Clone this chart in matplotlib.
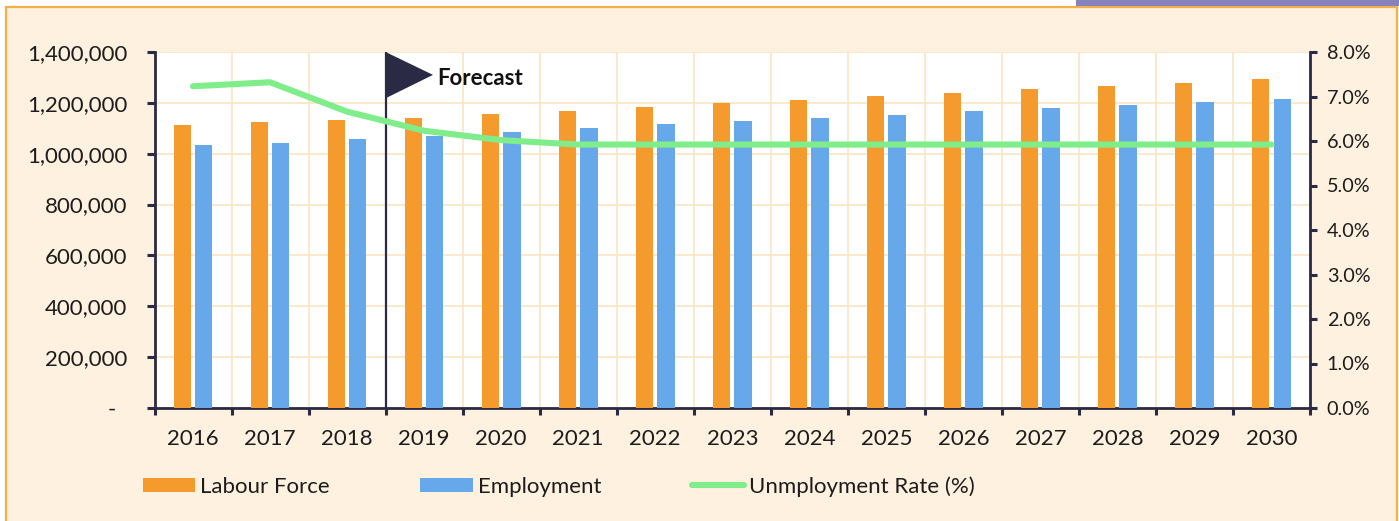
import matplotlib
matplotlib.use("Agg")
import matplotlib.pyplot as plt
from matplotlib.patches import Rectangle, Polygon
from matplotlib.ticker import FuncFormatter, FixedLocator
import numpy as np

years = [2016, 2017, 2018, 2019, 2020, 2021, 2022, 2023, 2024, 2025, 2026, 2027, 2028, 2029, 2030]
labour_force = [1112000, 1123000, 1131000, 1141000, 1155000, 1168000, 1184000, 1199000, 1211000,
                1227000, 1239000, 1254000, 1267000, 1280000, 1295000]
employment = [1033000, 1041000, 1057000, 1071000, 1085000, 1100000, 1115000, 1128000, 1141000,
              1154000, 1168000, 1180000, 1192000, 1205000, 1217000]
unemployment = [7.23, 7.32, 6.66, 6.23, 6.02, 5.92, 5.92, 5.92, 5.92, 5.92, 5.92, 5.92, 5.92, 5.92, 5.92]
series_names = ["Labour Force", "Employment", "Unmployment Rate (%)"]

ORANGE, BLUE, GREEN = "#F59A2C", "#66A8E9", "#7FEE8A"
DARK, BG, GRID = "#2A2A45", "#FEF1DF", "#FBE3BF"
TEXT = "#1c1c1c"
W, H = 1399, 521

plt.rcParams["font.family"] = ["Lato", "DejaVu Sans"]
plt.rcParams["font.size"] = 16

fig = plt.figure(figsize=(W / 100, H / 100), dpi=100, facecolor="white")

# panel and decoration
fig.add_artist(Rectangle((6.5 / W, -0.01), (1397 - 6.5) / W, (H - 7) / H + 0.01, transform=fig.transFigure,
                         facecolor=BG, edgecolor="#F5AE48", linewidth=1.6, zorder=-2))
fig.add_artist(Rectangle((1076 / W, 1 - 6 / H), (W - 1076) / W, 6 / H, transform=fig.transFigure,
                         facecolor="#8882BC", edgecolor="none", zorder=-1))

ax = fig.add_axes([154.5 / W, 1 - 408 / H, (1310 - 154.5) / W, (408 - 52) / H], facecolor="white")
x = np.arange(len(years))
b1 = ax.bar(x - 0.139, labour_force, width=0.225, color=ORANGE, label=series_names[0], zorder=3)
b2 = ax.bar(x + 0.139, employment, width=0.225, color=BLUE, label=series_names[1], zorder=3)

ax.set_xlim(-0.5, len(years) - 0.5)
ax.set_ylim(0, 1400000)
ax.set_yticks(np.arange(0, 1400001, 200000))
ax.yaxis.set_major_formatter(FuncFormatter(lambda v, _: "-  " if v == 0 else f"{int(v):,}"))
ax.xaxis.set_major_locator(FixedLocator(np.arange(-0.5, len(years))))
ax.set_xticklabels([])
ax.xaxis.set_minor_locator(FixedLocator(x))
ax.set_xticklabels([str(y) for y in years], minor=True)
ax.grid(True, which="major", color=GRID, linewidth=1.1, zorder=0)
ax.set_axisbelow(True)
ax.tick_params(axis="x", which="major", length=5, width=2.2, color=DARK)
ax.tick_params(axis="x", which="minor", length=0, pad=15, labelsize=16, labelcolor=TEXT)
ax.tick_params(axis="y", length=5.5, width=2.2, color=DARK, pad=14, labelsize=16, labelcolor=TEXT)
for lab in ax.get_yticklabels():
    lab.set_verticalalignment("center_baseline")

for s in ["top", "right"]:
    ax.spines[s].set_visible(False)
for s in ["left", "bottom"]:
    ax.spines[s].set_color(DARK)
    ax.spines[s].set_linewidth(2)

# forecast flag
ax.axvline(2.5, color=DARK, linewidth=1.6, zorder=4)
ax.add_patch(Polygon([(2.5, 1400000), (3.115, 1310000), (2.5, 1218000)], closed=True,
                     facecolor=DARK, edgecolor="none", zorder=5))
ax.text(3.17, 1297000, "Forecast", fontsize=16, fontweight="bold", color="#111111",
        va="center", ha="left", zorder=6)

ax2 = ax.twinx()
ax2.set_ylim(0, 8)
ax2.set_yticks(np.arange(0, 9))
ax2.yaxis.set_major_formatter(FuncFormatter(lambda v, _: f"{v:.1f}%"))
line, = ax2.plot(x, unemployment, color=GREEN, linewidth=4.4, solid_capstyle="round",
                 solid_joinstyle="round", label=series_names[2])
ax2.tick_params(axis="y", length=5, width=2.2, color=DARK, pad=7, labelsize=14.3, labelcolor=TEXT)
for lab in ax2.get_yticklabels():
    lab.set_verticalalignment("center_baseline")
for s in ["top", "left", "bottom"]:
    ax2.spines[s].set_visible(False)
ax2.spines["right"].set_color(DARK)
ax2.spines["right"].set_linewidth(2)

fig.legend(handles=[b1, b2, line], labels=series_names, ncol=3, frameon=False,
           loc="center left", bbox_to_anchor=(125 / W, 1 - 486.5 / H), fontsize=16,
           handlelength=2.35, handleheight=0.6, handletextpad=0.22, columnspacing=4.09,
           labelcolor=TEXT, borderpad=0.3)

fig.savefig("out.png", dpi=100, facecolor="white")
